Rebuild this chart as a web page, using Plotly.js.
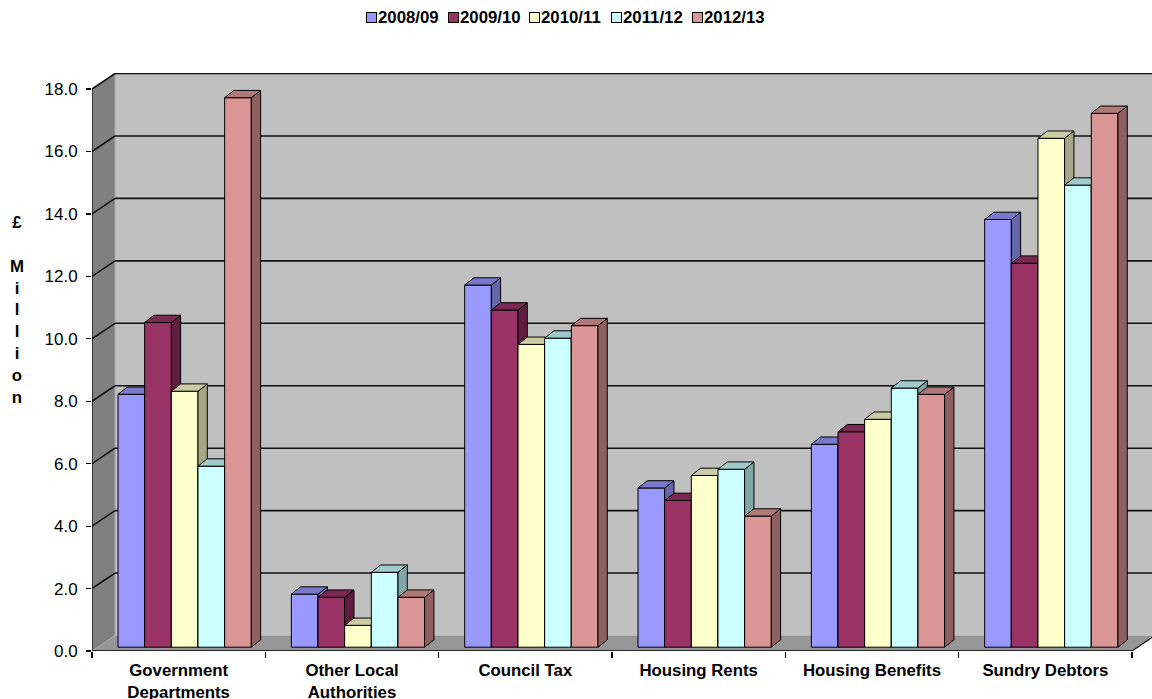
<!DOCTYPE html>
<html>
<head>
<meta charset="utf-8">
<script src="https://cdn.plot.ly/plotly-3.0.1.min.js"></script>
<style>
  html, body { margin: 0; padding: 0; background: #fff; }
  #chart { width: 1152px; height: 699px; }
</style>
</head>
<body>
<div id="chart"></div>
<script>
// Debtor balances by type, £ million
const categories = ['Government<br>Departments', 'Other Local<br>Authorities', 'Council Tax',
                    'Housing Rents', 'Housing Benefits', 'Sundry Debtors'];
const years = ['2008/09', '2009/10', '2010/11', '2011/12', '2012/13'];
const v2008 = [8.1, 1.7, 11.6, 5.1, 6.5, 13.7];
const v2009 = [10.4, 1.6, 10.8, 4.7, 6.9, 12.3];
const v2010 = [8.2, 0.7, 9.7, 5.5, 7.3, 16.3];
const v2011 = [5.8, 2.4, 9.9, 5.7, 8.3, 14.8];
const v2012 = [17.6, 1.6, 10.3, 4.2, 8.1, 17.1];
const yTicks = [0, 2, 4, 6, 8, 10, 12, 14, 16, 18];

const series = [v2008, v2009, v2010, v2011, v2012];
const frontColors = ['#9999FF', '#993366', '#FFFFCC', '#CCFFFF', '#D99694'];
const topColors   = ['#7878CC', '#7A2952', '#CCCCA3', '#A0CCCC', '#AF7977'];
const sideColors  = ['#6666AA', '#5F1E40', '#A6A684', '#80A6A6', '#8E6160'];

// Plot geometry (pixels) used to turn the 3-D depth offsets into axis units
const W = 1152, H = 699;
const M = { l: 92, r: 0, t: 73, b: 48 };
const plotW = W - M.l - M.r, plotH = H - M.t - M.b;
const catPx = 173.33;            // width of one category on the front edge
const valPx = 31.22;             // pixels per £1m
const xMin = -0.5, xMax = xMin + plotW / catPx;
const yMin = 0, yMax = plotH / valPx;
const ux = px => px / catPx;
const uy = px => px / valPx;
// pixel position -> paper fraction (for the legend and side title)
const paperX = px => (px - M.l) / plotW;
const paperY = py => (H - M.b - py) / plotH;

// depth of the walls / floor, position of the bar row, and bar thickness
const wallDx = ux(23), wallDy = uy(15.5);
const rowDx = ux(6), rowDy = uy(3.8);
const barDx = ux(9.3), barDy = uy(7.3);
const groupW = 0.769, barW = groupW / years.length;
const xEnd = categories.length - 0.5;
const idx = categories.map((_, i) => i);

const traces = [];
series.forEach((vals, s) => {
  const offset = -groupW / 2 + s * barW + rowDx;
  // front faces
  traces.push({
    type: 'bar', name: years[s], x: idx, y: vals, base: rowDy,
    offset: offset, width: barW, zorder: s, showlegend: false,
    marker: { color: frontColors[s], line: { color: '#000', width: 1 } },
    hoverinfo: 'skip'
  });
  // top and right-hand faces, one polygon per bar
  const tx = [], ty = [], sx = [], sy = [];
  vals.forEach((v, i) => {
    const L = i + offset, R = L + barW, b = rowDy, t = rowDy + v;
    tx.push(L, L + barDx, R + barDx, R, L, null);
    ty.push(t, t + barDy, t + barDy, t, t, null);
    sx.push(R, R + barDx, R + barDx, R, R, null);
    sy.push(b, b + barDy, t + barDy, t, b, null);
  });
  traces.push({
    type: 'scatter', mode: 'lines', x: sx, y: sy, fill: 'toself', zorder: s,
    fillcolor: sideColors[s], line: { color: '#000', width: 1 },
    showlegend: false, hoverinfo: 'skip'
  });
  traces.push({
    type: 'scatter', mode: 'lines', x: tx, y: ty, fill: 'toself', zorder: s,
    fillcolor: topColors[s], line: { color: '#000', width: 1 },
    showlegend: false, hoverinfo: 'skip'
  });
});

// walls, floor and gridlines
const shapes = [];
const farX = xMax + 1;
shapes.push({ type: 'rect', xref: 'x', yref: 'y', layer: 'below',
  x0: xMin + wallDx, x1: farX, y0: wallDy, y1: 18 + wallDy,
  fillcolor: '#C0C0C0', line: { width: 0 } });
shapes.push({ type: 'path', xref: 'x', yref: 'y', layer: 'below',
  path: `M${xMin},0 L${xMin + wallDx},${wallDy} L${xMin + wallDx},${18 + wallDy} L${xMin},18 Z`,
  fillcolor: '#808080', line: { width: 0 } });
shapes.push({ type: 'path', xref: 'x', yref: 'y', layer: 'below',
  path: `M${xMin},0 L${xEnd},0 L${xEnd + wallDx},${wallDy} L${xMin + wallDx},${wallDy} Z`,
  fillcolor: '#969696', line: { width: 0 } });
// light seams where the walls meet
shapes.push({ type: 'line', xref: 'x', yref: 'y', layer: 'below',
  x0: xMin + wallDx, x1: xMin + wallDx, y0: wallDy, y1: 18 + wallDy,
  line: { color: '#A8A8A8', width: 1 } });
shapes.push({ type: 'line', xref: 'x', yref: 'y', layer: 'below',
  x0: xMin, x1: xMin + wallDx, y0: 0, y1: wallDy,
  line: { color: '#A8A8A8', width: 1 } });
yTicks.filter(v => v > 0).forEach(v => {
  shapes.push({ type: 'line', xref: 'x', yref: 'y', layer: 'below',
    x0: xMin + wallDx, x1: farX, y0: v + wallDy, y1: v + wallDy,
    line: { color: '#111', width: 1.6 } });
  shapes.push({ type: 'line', xref: 'x', yref: 'y', layer: 'below',
    x0: xMin, x1: xMin + wallDx, y0: v, y1: v + wallDy,
    line: { color: '#111', width: 1.6 } });
});
shapes.push({ type: 'line', xref: 'x', yref: 'y', layer: 'below',
  x0: xEnd, x1: xEnd + wallDx, y0: 0, y1: wallDy,
  line: { color: '#111', width: 1.2 } });
// front axis lines
shapes.push({ type: 'line', xref: 'x', yref: 'y', layer: 'below',
  x0: xMin, x1: xMin, y0: 0, y1: 18, line: { color: '#000', width: 1.2 } });
shapes.push({ type: 'line', xref: 'x', yref: 'y', layer: 'below',
  x0: xMin, x1: xEnd, y0: 0, y1: 0, line: { color: '#000', width: 1.6 } });

const font = { family: 'Liberation Sans, Arial, sans-serif', color: '#000' };
const boldFont = Object.assign({}, font, { size: 16.8, weight: 'bold' });
const boundaries = [];
for (let i = 0; i <= categories.length; i++) boundaries.push(i - 0.5);

// Legend row along the top: a bordered swatch followed by the year label
const annotations = [];
const legendX0 = 371.5, legendStep = 81.5, legendY = 17.5;
years.forEach((name, s) => {
  const cx = legendX0 + s * legendStep;
  annotations.push({
    xref: 'paper', yref: 'paper', x: paperX(cx), y: paperY(legendY),
    xanchor: 'center', yanchor: 'middle', showarrow: false,
    text: ' ', width: 7, height: 7, borderpad: 1,
    bgcolor: frontColors[s], bordercolor: '#000', borderwidth: 1,
    font: Object.assign({}, font, { size: 6 })
  });
  annotations.push({
    xref: 'paper', yref: 'paper', x: paperX(cx + 5.5), y: paperY(legendY),
    xanchor: 'left', yanchor: 'middle', showarrow: false, borderpad: 0,
    text: name, font: boldFont
  });
});
annotations.push({
  xref: 'paper', yref: 'paper', x: paperX(17), y: paperY(310),
  xanchor: 'center', yanchor: 'middle', showarrow: false, align: 'center',
  text: '£<br><br>M<br>i<br>l<br>l<br>i<br>o<br>n',
  font: boldFont
});

const layout = {
  width: W, height: H, autosize: false,
  margin: M,
  paper_bgcolor: '#fff', plot_bgcolor: '#fff',
  barmode: 'overlay',
  showlegend: false,
  xaxis: {
    range: [xMin, xMax], tickmode: 'array', tickvals: idx, ticktext: categories,
    ticks: '', ticklabelstandoff: 7,
    showgrid: false, zeroline: false, showline: false, fixedrange: true,
    tickfont: boldFont,
    minor: { tickmode: 'array', tickvals: boundaries, ticks: 'outside',
             ticklen: 6, tickwidth: 1.2, tickcolor: '#000', showgrid: false }
  },
  yaxis: {
    range: [yMin, yMax], tickmode: 'array', tickvals: yTicks, tickformat: '.1f',
    ticks: 'outside', ticklen: 5, tickwidth: 1.2, tickcolor: '#000', ticklabelstandoff: 5,
    showgrid: false, zeroline: false, showline: false, fixedrange: true,
    tickfont: Object.assign({}, font, { size: 17 })
  },
  shapes: shapes,
  annotations: annotations
};

Plotly.newPlot('chart', traces, layout, { displayModeBar: false, staticPlot: true });
</script>
</body>
</html>
